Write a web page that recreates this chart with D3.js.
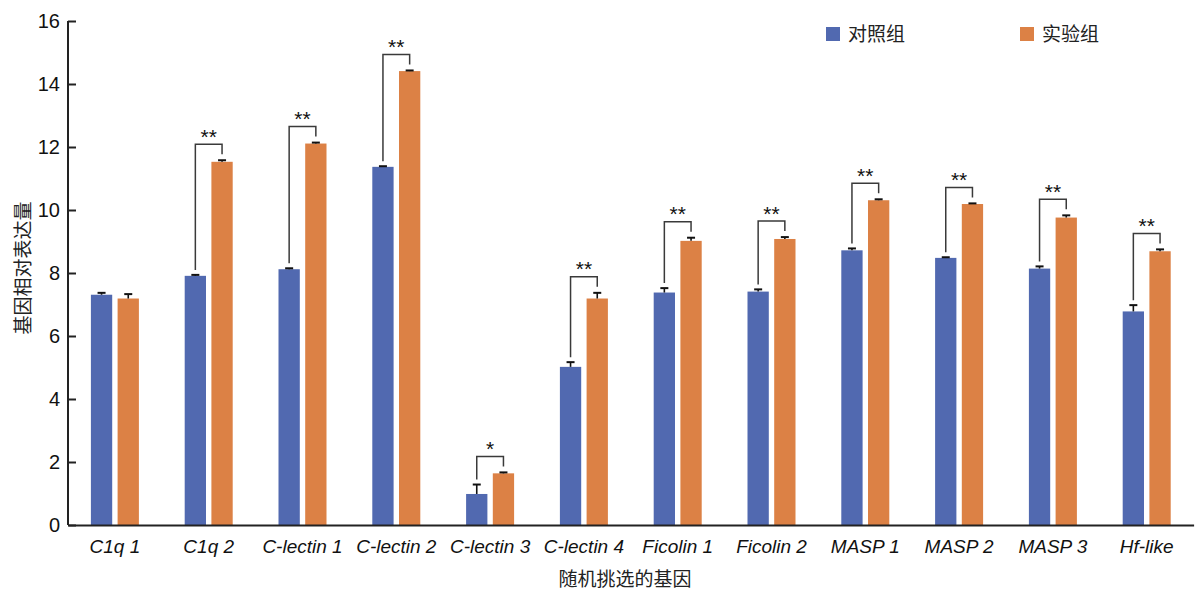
<!DOCTYPE html>
<html>
<head>
<meta charset="utf-8">
<script src="https://cdn.jsdelivr.net/npm/d3@7"></script>
<style>
  html, body { margin: 0; padding: 0; background: #fff; }
  svg { display: block; }
  text { font-family: "Liberation Sans", Arial, sans-serif; fill: #111; }
  .cjk { font-family: "Noto Sans CJK SC", sans-serif; fill: #222; }
</style>
</head>
<body>
<svg id="chart" width="1195" height="591"></svg>
<script>
// Genes on the x axis
const genes = ["C1q 1", "C1q 2", "C-lectin 1", "C-lectin 2", "C-lectin 3", "C-lectin 4",
               "Ficolin 1", "Ficolin 2", "MASP 1", "MASP 2", "MASP 3", "Hf-like"];
// Relative expression: control group (对照组)
const controlMean = [7.31, 7.91, 8.12, 11.37, 0.985, 5.02, 7.38, 7.41, 8.72, 8.48, 8.14, 6.78];
const controlErr  = [0.06, 0.03, 0.03, 0.02, 0.30, 0.15, 0.14, 0.07, 0.06, 0.02, 0.07, 0.20];
// Relative expression: treatment group (实验组)
const treatMean = [7.19, 11.53, 12.11, 14.41, 1.64, 7.19, 9.02, 9.08, 10.31, 10.19, 9.76, 8.69];
const treatErr  = [0.14, 0.05, 0.03, 0.02, 0.03, 0.18, 0.10, 0.06, 0.03, 0.02, 0.07, 0.06];
// Significance markers between the two groups
const significance = ["", "**", "**", "**", "*", "**", "**", "**", "**", "**", "**", "**"];
const seriesNames = ["对照组", "实验组"];
const yTicks = [0, 2, 4, 6, 8, 10, 12, 14, 16];

const colors = ["#5169b0", "#dc8145"];

const svg = d3.select("#chart");
const x = d3.scaleBand().domain(genes).range([68, 1193.6]);
const y = d3.scaleLinear().domain([0, 16]).range([525, 21]);

const barW = 21.3, gap = 2.7;

// bars
const groups = genes.map((g, i) => ({
  gene: g, c: x(g) + x.bandwidth() / 2,
  vals: [{m: controlMean[i], e: controlErr[i]}, {m: treatMean[i], e: treatErr[i]}],
  sig: significance[i]
}));

const gSel = svg.append("g").selectAll("g").data(groups).join("g");

gSel.each(function(d) {
  const g = d3.select(this);
  d.vals.forEach((v, k) => {
    const x0 = k === 0 ? d.c - gap - barW : d.c + gap;
    g.append("rect")
      .attr("x", x0).attr("width", barW)
      .attr("y", y(v.m)).attr("height", y(0) - y(v.m))
      .attr("fill", colors[k]);
    const cx = x0 + barW / 2;
    // error bar (upper whisker only)
    g.append("line")
      .attr("x1", cx).attr("x2", cx)
      .attr("y1", y(v.m)).attr("y2", y(v.m + v.e))
      .attr("stroke", "#111").attr("stroke-width", 1.6);
    g.append("line")
      .attr("x1", cx - 4).attr("x2", cx + 4)
      .attr("y1", y(v.m + v.e)).attr("y2", y(v.m + v.e))
      .attr("stroke", "#111").attr("stroke-width", 2);
  });
  if (d.sig) {
    const lx = d.c - gap - barW / 2, rx = d.c + gap + barW / 2;
    const capL = y(d.vals[0].m + d.vals[0].e), capR = y(d.vals[1].m + d.vals[1].e);
    const top = capR - 16;
    g.append("path")
      .attr("d", `M${lx},${capL - 5}V${top}H${rx}V${capR - 6}`)
      .attr("fill", "none").attr("stroke", "#3a3a3a").attr("stroke-width", 1.5);
    g.append("text")
      .attr("x", d.c).attr("y", top - 0.5)
      .attr("text-anchor", "middle")
      .attr("font-size", 21)
      .text(d.sig);
  }
});

// y axis (ticks point inward)
const yAxis = d3.axisRight(y).tickValues(yTicks).tickSize(8).tickFormat(d3.format("d"));
const ya = svg.append("g").attr("transform", "translate(68,0)").call(yAxis);
ya.select(".domain").attr("stroke", "#222").attr("stroke-width", 2).attr("d", `M0,${y(16)}V${y(0)}`);
ya.selectAll(".tick line").attr("stroke", "#222").attr("stroke-width", 2);
ya.selectAll(".tick text")
  .attr("x", -8).attr("text-anchor", "end")
  .attr("font-size", 20).attr("fill", "#111");

// x axis
const xAxis = d3.axisBottom(x).tickSize(0).tickPadding(15);
const xa = svg.append("g").attr("transform", "translate(0,525)").call(xAxis);
xa.select(".domain").attr("stroke", "#222").attr("stroke-width", 2);
xa.selectAll(".tick text")
  .attr("font-size", 19).attr("font-style", "italic").attr("fill", "#111");

// axis titles
svg.append("text").attr("class", "cjk")
  .attr("x", 625).attr("y", 586)
  .attr("text-anchor", "middle").attr("font-size", 19)
  .text("随机挑选的基因");
svg.append("text").attr("class", "cjk")
  .attr("transform", "translate(30,268) rotate(-90)")
  .attr("text-anchor", "middle").attr("font-size", 19)
  .text("基因相对表达量");

// legend
const legendX = [826, 1020];
seriesNames.forEach((name, k) => {
  svg.append("rect")
    .attr("x", legendX[k]).attr("y", 27).attr("width", 14).attr("height", 14)
    .attr("fill", colors[k]);
  svg.append("text").attr("class", "cjk")
    .attr("x", legendX[k] + 22).attr("y", 41)
    .attr("font-size", 19)
    .text(name);
});
</script>
</body>
</html>
